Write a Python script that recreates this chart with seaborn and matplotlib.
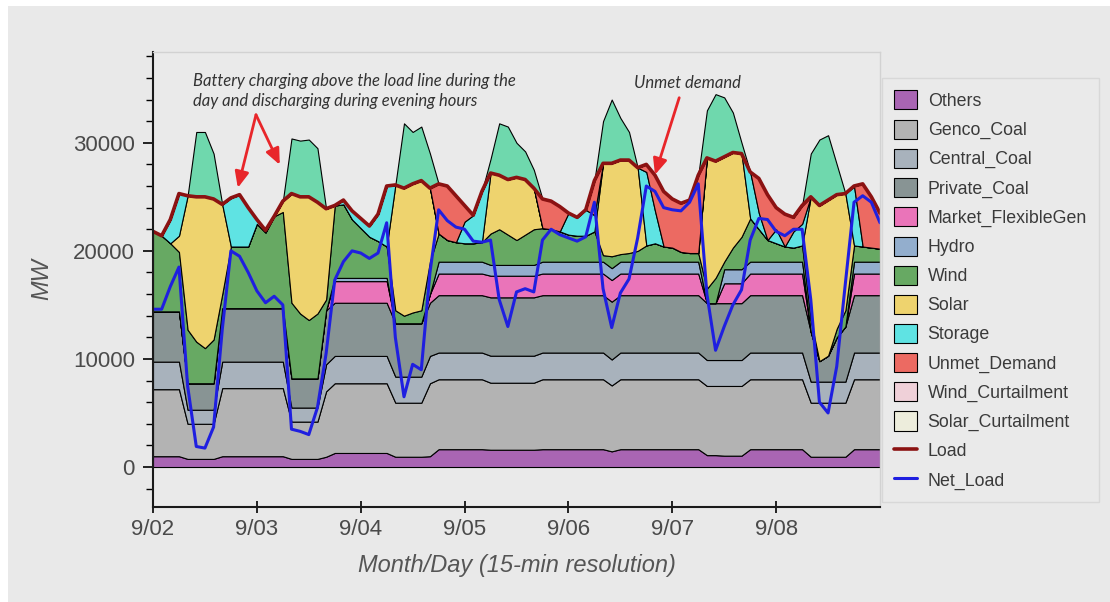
import numpy as np
import pandas as pd
import seaborn as sns
import matplotlib.pyplot as plt
from matplotlib.patches import Rectangle
from matplotlib.ticker import MultipleLocator

sns.set_theme(style="white")
plt.rcParams['font.family'] = ['Liberation Sans', 'DejaVu Sans']

# time axis: 2-hour samples from 9/02 00:00 to 9/09 00:00 (hours)
hours = np.arange(0, 169, 2)
day_labels = ['9/02', '9/03', '9/04', '9/05', '9/06', '9/07', '9/08']

# generation by source, MW (one row per day, 12 samples each, plus end point)
others = [1000, 1000, 1000, 1000, 750, 750, 750, 750, 1000, 1000, 1000, 1000,
          1000, 1000, 1000, 1000, 750, 750, 750, 750, 950, 1300, 1300, 1300,
          1300, 1300, 1300, 1300, 950, 950, 950, 950, 1000, 1650, 1650, 1650,
          1650, 1650, 1650, 1600, 1600, 1600, 1600, 1600, 1600, 1650, 1650, 1650,
          1650, 1650, 1650, 1650, 1650, 1450, 1650, 1650, 1650, 1650, 1650, 1650,
          1650, 1650, 1650, 1650, 1100, 1100, 1050, 1050, 1050, 1650, 1650, 1650,
          1650, 1650, 1650, 1650, 950, 950, 950, 950, 950, 1650, 1650, 1650,
          1650]
genco_coal = [6200, 6200, 6200, 6200, 3250, 3250, 3250, 3250, 6300, 6300, 6300, 6300,
              6300, 6300, 6300, 6300, 3450, 3450, 3450, 3450, 6050, 6450, 6450, 6450,
              6450, 6450, 6450, 6450, 5000, 5000, 5000, 5000, 6750, 6470, 6470, 6470,
              6470, 6470, 6470, 6200, 6200, 6200, 6200, 6200, 6200, 6470, 6470, 6470,
              6470, 6470, 6470, 6470, 6470, 6100, 6470, 6470, 6470, 6470, 6470, 6470,
              6470, 6470, 6470, 6470, 6400, 6400, 6450, 6450, 6450, 6470, 6470, 6470,
              6470, 6470, 6470, 6470, 5000, 5000, 5000, 5000, 5000, 6470, 6470, 6470,
              6470]
central_coal = [2550, 2550, 2550, 2550, 1300, 1300, 1300, 1300, 2450, 2450, 2450, 2450,
                2450, 2450, 2450, 2450, 1300, 1300, 1300, 1300, 2500, 2530, 2530, 2530,
                2530, 2530, 2530, 2530, 2410, 2410, 2410, 2410, 2530, 2470, 2470, 2470,
                2470, 2470, 2470, 2500, 2500, 2500, 2500, 2500, 2500, 2470, 2470, 2470,
                2470, 2470, 2470, 2470, 2470, 2400, 2470, 2470, 2470, 2470, 2470, 2470,
                2470, 2470, 2470, 2470, 2400, 2400, 2400, 2400, 2400, 2470, 2470, 2470,
                2470, 2470, 2470, 2470, 1950, 1950, 1950, 1950, 1950, 2470, 2470, 2470,
                2470]
private_coal = [4650, 4650, 4650, 4650, 2450, 2450, 2450, 2450, 4950, 4950, 4950, 4950,
                4950, 4950, 4950, 4950, 2700, 2700, 2700, 2700, 5000, 4920, 4920, 4920,
                4920, 4920, 4920, 4920, 4940, 4940, 4940, 4940, 4920, 5310, 5310, 5310,
                5310, 5310, 5310, 5400, 5400, 5400, 5400, 5400, 5400, 5310, 5310, 5310,
                5310, 5310, 5310, 5310, 5310, 5350, 5310, 5310, 5310, 5310, 5310, 5310,
                5310, 5310, 5310, 5310, 5260, 5260, 5260, 5260, 5260, 5310, 5310, 5310,
                5310, 5310, 5310, 5310, 4600, 1900, 2400, 4100, 5100, 5310, 5310, 5310,
                5310]
market_flex = [0, 0, 0, 0, 0, 0, 0, 0, 0, 0, 0, 0,
               0, 0, 0, 0, 0, 0, 0, 0, 0, 2000, 2000, 2000,
               2000, 2000, 2000, 2000, 0, 0, 0, 0, 800, 2000, 2000, 2000,
               2000, 2000, 2000, 2000, 2000, 2000, 2000, 2000, 2000, 2000, 2000, 2000,
               2000, 2000, 2000, 2000, 2000, 2000, 2000, 2000, 2000, 2000, 2000, 2000,
               2000, 2000, 2000, 2000, 0, 0, 1840, 1840, 1840, 2000, 2000, 2000,
               2000, 2000, 2000, 2000, 0, 0, 0, 0, 0, 2000, 2000, 2000,
               2000]
hydro = [0, 0, 0, 0, 0, 0, 0, 0, 0, 0, 0, 0,
         0, 0, 0, 0, 0, 0, 0, 0, 0, 300, 300, 300,
         300, 300, 300, 300, 0, 0, 0, 0, 0, 1100, 1100, 1100,
         1100, 1100, 1100, 1000, 1000, 1000, 1000, 1000, 1000, 1100, 1100, 1100,
         1100, 1100, 1100, 1100, 1100, 1100, 1100, 1100, 1100, 1100, 1100, 1100,
         1100, 1100, 1100, 1100, 0, 0, 1300, 1300, 1300, 1100, 1100, 1100,
         1100, 1100, 1100, 1100, 0, 0, 0, 0, 0, 1100, 1100, 1100,
         1100]
wind = [7400, 7000, 6300, 5500, 4950, 3850, 3250, 4050, 1300, 5700, 5700, 5700,
        7800, 7000, 8500, 8900, 7000, 6000, 5400, 6000, 1000, 6700, 6800, 5400,
        4600, 3800, 3400, 2900, 1200, 700, 1000, 1200, 3000, 2600, 2000, 1800,
        1700, 1700, 1800, 2900, 3300, 2800, 2300, 2800, 3300, 3100, 3000, 2800,
        2500, 2400, 2400, 2800, 600, 1100, 700, 800, 1000, 1500, 1700, 1400,
        1300, 900, 800, 800, 1340, 2340, 700, 2000, 3000, 4000, 3000, 2000,
        1700, 1400, 1300, 1500, 1100, 0, 0, 800, 1500, 1500, 1400, 1300,
        1200]
solar = [0, 0, 0, 1500, 12400, 13400, 14000, 13000, 8300, 0, 0, 0,
         0, 0, 0, 1000, 10100, 10800, 11400, 10300, 8400, 0, 0, 0,
         0, 0, 0, 0, 11600, 11800, 11900, 12000, 6800, 0, 0, 0,
         0, 0, 0, 5600, 5000, 5100, 5800, 5100, 3800, 0, 0, 0,
         0, 0, 0, 0, 8500, 8600, 8700, 8600, 7700, 0, 0, 0,
         0, 0, 0, 0, 12100, 10800, 9700, 8800, 7700, 0, 0, 0,
         0, 0, 0, 0, 11400, 14400, 14400, 12400, 10800, 0, 0, 0,
         0]
storage = [0, 0, 2200, 3900, 0, 0, 0, 0, 0, 4500, 4800, 3600,
           400, 200, 0, 0, 0, 0, 0, 0, 0, 0, 400, 800,
           900, 1000, 2500, 5600, 0, 0, 0, 0, 0, 0, 0, 0,
           2000, 2600, 4700, 0, 0, 0, 0, 0, 0, 0, 0, 0,
           2000, 1700, 2400, 1500, 0, 0, 0, 0, 0, 6800, 3000, 0,
           0, 0, 0, 0, 0, 0, 0, 0, 0, 4300, 1500, 0,
           1300, 0, 1500, 2000, 0, 0, 0, 0, 0, 5500, 0, 0,
           0]
unmet = [0, 0, 0, 0, 0, 0, 0, 0, 0, 0, 0, 0,
         0, 0, 0, 0, 0, 0, 0, 0, 0, 0, 0, 0,
         0, 0, 0, 0, 0, 0, 0, 0, 0, 4600, 5000, 4300,
         1500, 0, 0, 0, 0, 0, 0, 0, 0, 2700, 2600, 2300,
         0, 0, 0, 3200, 0, 0, 0, 0, 0, 700, 3300, 5100,
         4500, 4500, 4900, 7200, 0, 0, 0, 0, 0, 0, 3200, 4200,
         2000, 3000, 1300, 1700, 0, 0, 0, 0, 0, 0, 5800, 4700,
         3300]
wind_curt = [0] * 85
solar_curt = [0] * 85
# battery charging, drawn above the load line
charging = [0, 0, 0, 0, 0, 6000, 6000, 4200, 0, 0, 0, 0,
            0, 0, 0, 0, 5100, 5200, 5300, 5000, 0, 0, 0, 0,
            0, 0, 0, 0, 0, 6000, 4800, 5000, 3200, 0, 0, 0,
            0, 0, 0, 1300, 4800, 4900, 3200, 2600, 1700, 0, 0, 0,
            0, 0, 0, 0, 3900, 5900, 3900, 2600, 0, 0, 0, 0,
            0, 0, 0, 0, 4400, 6200, 5500, 3700, 1000, 0, 0, 0,
            0, 0, 0, 0, 4000, 6100, 6000, 2800, 0, 0, 0, 0,
            0]
load = [21800, 21400, 22900, 25300, 25100, 25000, 25000, 24800, 24300, 24900, 25200, 24000,
        22900, 21900, 23200, 24600, 25300, 25000, 25000, 24500, 23900, 24200, 24700, 23700,
        23000, 22300, 23400, 26000, 26100, 25800, 26200, 26500, 25800, 26200, 26000, 25100,
        24200, 23300, 25500, 27200, 27000, 26600, 26800, 26600, 25800, 24800, 24600, 24100,
        23500, 23100, 23800, 26500, 28100, 28100, 28400, 28400, 27700, 28000, 27000, 25500,
        24800, 24400, 24700, 27000, 28600, 28300, 28700, 29100, 29000, 27300, 26700, 25200,
        24000, 23400, 23100, 24200, 25000, 24200, 24700, 25200, 25300, 26000, 26200, 25000,
        23500]
net_load = [14600, 14600, 16700, 18500, 7500, 1900, 1750, 3700, 12700, 20000, 19500, 18000,
            16300, 15200, 15800, 15000, 3500, 3300, 3000, 5500, 10500, 17300, 19000, 20000,
            19800, 19300, 19800, 22600, 12000, 6500, 9500, 9000, 18000, 23800, 22800, 22200,
            22000, 20900, 20800, 21000, 15500, 13000, 16200, 16500, 16200, 21000, 22000, 21500,
            21200, 20900, 21300, 24500, 16500, 12900, 16100, 17400, 21200, 26000, 25500, 24000,
            23800, 23700, 24500, 26200, 16000, 10800, 13000, 15000, 16400, 21000, 23000, 22900,
            21800, 21400, 22000, 22000, 15500, 6000, 5000, 9300, 17000, 24500, 25100, 24500,
            22600]

labels = ['Others', 'Genco_Coal', 'Central_Coal', 'Private_Coal', 'Market_FlexibleGen',
          'Hydro', 'Wind', 'Solar', 'Storage', 'Unmet_Demand', 'Wind_Curtailment',
          'Solar_Curtailment']
colors = ['#a965b3', '#b3b3b3', '#a8b2bc', '#889494', '#ea74b9', '#93aecd',
          '#67a963', '#eed36e', '#5fe3e3', '#ec6a62', '#efd0d8', '#ededdc']

df = pd.DataFrame({'hours': hours, 'load': load, 'net_load': net_load})

fig = plt.figure(figsize=(11.1, 6.02), dpi=100)
fig.patch.set_facecolor('white')
fig.add_artist(Rectangle((8 / 1110, 0), 1, 1 - 6 / 602, transform=fig.transFigure,
                         facecolor='#e9e9e9', edgecolor='none', zorder=-10))
ax = fig.add_axes([153 / 1110, 95 / 602, 727 / 1110, 455 / 602])
ax.set_facecolor('#eaeaea')

polys = ax.stackplot(hours, others, genco_coal, central_coal, private_coal, market_flex,
                     hydro, wind, solar, storage, unmet, wind_curt, solar_curt,
                     colors=colors, labels=labels, edgecolor='black', linewidth=0.8)
ax.fill_between(hours, load, np.array(load) + np.array(charging),
                facecolor='#6fd8ad', edgecolor='black', linewidth=0.8)

sns.lineplot(data=df, x='hours', y='load', ax=ax, color='#8b1212', linewidth=2.6,
             label='Load', legend=False)
sns.lineplot(data=df, x='hours', y='net_load', ax=ax, color='#1f1fe0', linewidth=2.2,
             label='Net_Load', legend=False)

ax.set_xlim(0, 168)
ax.set_ylim(-3700, 38400)
ax.set_xticks(np.arange(0, 145, 24))
ax.set_xticklabels(day_labels)
ax.yaxis.set_major_locator(MultipleLocator(10000))
ax.yaxis.set_minor_locator(MultipleLocator(2000))
ax.tick_params(axis='y', which='major', direction='out', length=7, width=1.2,
               color='black', labelsize=16, labelcolor='#4a4a4a', pad=6, left=True)
ax.tick_params(axis='y', which='minor', direction='out', length=5, width=1.0,
               color='black', left=True)
ax.tick_params(axis='x', which='major', direction='inout', length=9, width=1.2,
               color='black', labelsize=16, labelcolor='#4a4a4a', pad=4, bottom=True)

for side in ['left', 'bottom']:
    ax.spines[side].set_color('#1a1a1a')
    ax.spines[side].set_linewidth(1.5)
for side in ['top', 'right']:
    ax.spines[side].set_color('#d2d2d2')
    ax.spines[side].set_linewidth(1.0)

ax.set_xlabel('Month/Day (15-min resolution)', fontsize=17, fontstyle='italic',
              color='#555555', labelpad=10)
ax.set_ylabel('MW', fontsize=17, fontstyle='italic', color='#555555', labelpad=14)

# annotations
ax.text(9.2, 36500, 'Battery charging above the load line during the\n'
        'day and discharging during evening hours',
        fontsize=12, fontstyle='italic', family=['Lato', 'DejaVu Sans'],
        color='#333333', va='top', ha='left', linespacing=1.32)
for tip in [(19.6, 25830), (29.3, 27960)]:
    ax.annotate('', xy=tip, xytext=(23.8, 32590),
                arrowprops=dict(arrowstyle='-|>,head_length=0.8,head_width=0.35',
                                color='#e8262a', lw=2, shrinkA=0, shrinkB=0))
ax.text(111.2, 35550, 'Unmet demand', fontsize=12, fontstyle='italic',
        family=['Lato', 'DejaVu Sans'], color='#333333', va='center', ha='left')
ax.annotate('', xy=(116.0, 27040), xytext=(121.6, 34170),
            arrowprops=dict(arrowstyle='-|>,head_length=0.8,head_width=0.35',
                            color='#e8262a', lw=2, shrinkA=0, shrinkB=0))

handles = list(polys) + ax.get_lines()[:2]
leg_labels = labels + ['Load', 'Net_Load']
leg = fig.legend(handles, leg_labels, loc='upper left',
                 bbox_to_anchor=(882 / 1110, 1 - 78 / 602), bbox_transform=fig.transFigure,
                 borderaxespad=0, fontsize=12.8, frameon=True, fancybox=False,
                 handlelength=1.27, handleheight=1.27, labelspacing=0.54,
                 handletextpad=0.6, borderpad=0.7)
leg.get_frame().set_facecolor('#ebebeb')
leg.get_frame().set_edgecolor('#d4d4d4')
for t in leg.get_texts():
    t.set_color('#3a3a3a')

fig.savefig('out.png', dpi=100)
